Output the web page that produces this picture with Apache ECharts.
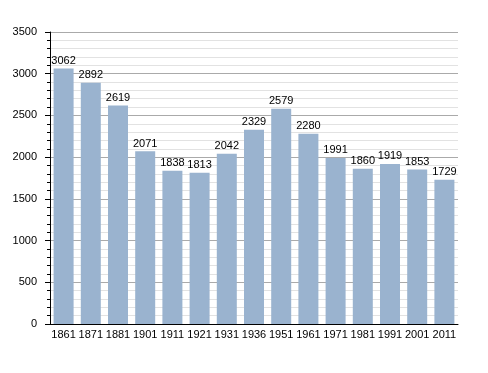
<!DOCTYPE html>
<html><head><meta charset="utf-8">
<script src="https://cdn.jsdelivr.net/npm/echarts@6/dist/echarts.min.js"></script>
<style>html,body{margin:0;padding:0;background:#fff}#c{width:488px;height:373px}</style>
</head><body><div id="c"></div>
<script>
var categories = ['1861','1871','1881','1901','1911','1921','1931','1936','1951','1961','1971','1981','1991','2001','2011'];
var population = [3062,2892,2619,2071,1838,1813,2042,2329,2579,2280,1991,1860,1919,1853,1729];
var FONT = '"Liberation Sans",Arial,sans-serif';
var chart = echarts.init(document.getElementById('c'));
chart.setOption({
  animation:false,
  grid:{left:50,right:30,top:32,bottom:49},
  xAxis:{type:'category',data:categories,
    axisLine:{lineStyle:{color:'#000',width:1}},axisTick:{show:false},
    axisLabel:{color:'#000',fontSize:11,fontFamily:FONT,margin:5,interval:0}},
  yAxis:{type:'value',min:0,max:3500,interval:500,
    axisLine:{show:true,lineStyle:{color:'#000'}},
    axisTick:{show:true,length:5,lineStyle:{color:'#000'}},
    minorTick:{show:true,splitNumber:5,length:3,lineStyle:{color:'#000'}},
    splitLine:{lineStyle:{color:'#aaa'}},
    minorSplitLine:{show:true,lineStyle:{color:'#e2e2e2'}},
    axisLabel:{color:'#000',fontSize:11,fontFamily:FONT,margin:13,formatter:function(v){return String(v);}}},
  series:[{type:'bar',data:population,barWidth:20,
    itemStyle:{color:'#9ab3cf'},
    label:{show:true,position:'top',color:'#000',fontSize:11,fontFamily:FONT,distance:2}}]
});
</script></body></html>
